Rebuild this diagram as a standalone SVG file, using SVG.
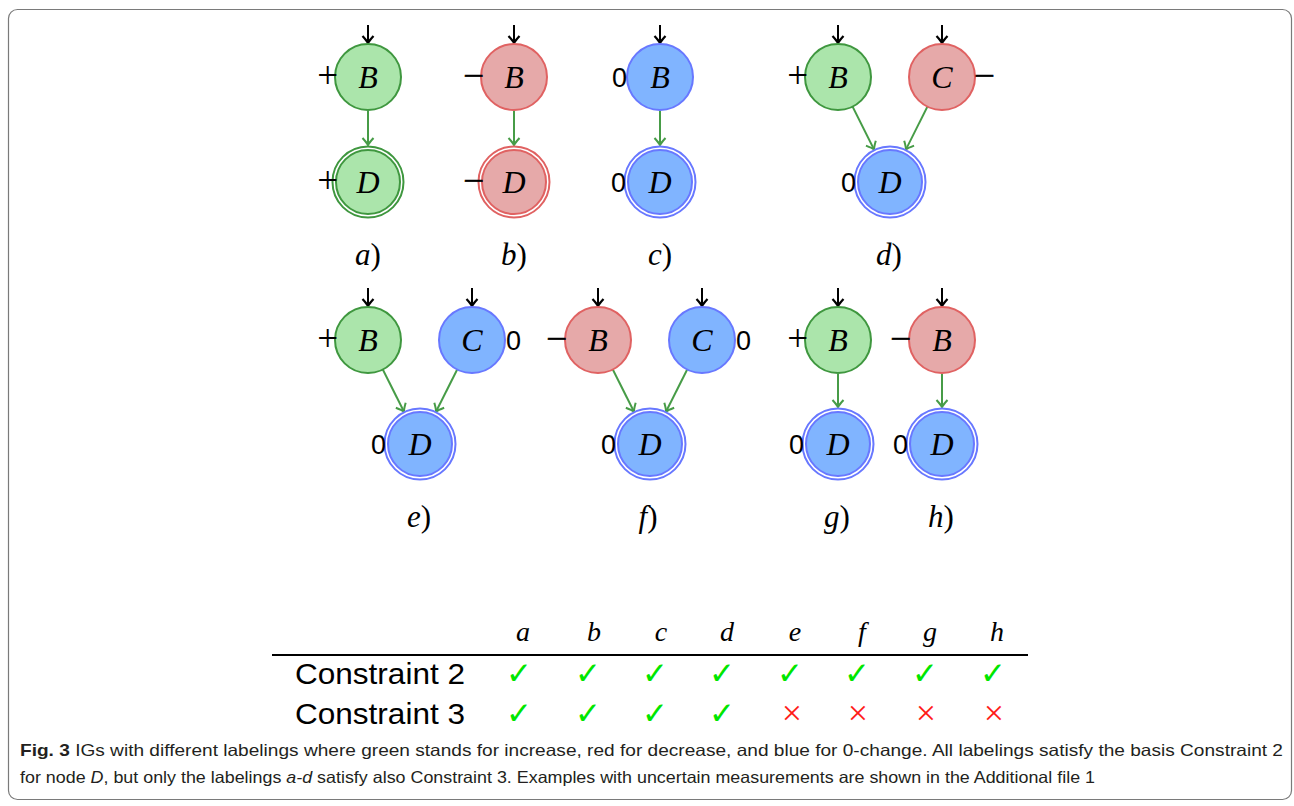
<svg xmlns="http://www.w3.org/2000/svg" width="1294" height="806" viewBox="0 0 1294 806">
<style>
.g{fill:#abe5ab;stroke:#3f973f;stroke-width:2}
.r{fill:#e6a9a9;stroke:#e06262;stroke-width:2}
.b{fill:#80b4ff;stroke:#6878ff;stroke-width:2}
.go{fill:#fff;stroke:#3f973f;stroke-width:2}
.ro{fill:#fff;stroke:#e06262;stroke-width:2}
.bo{fill:#fff;stroke:#6878ff;stroke-width:2}
.nl{font-family:"Liberation Serif",serif;font-style:italic;font-size:32px;text-anchor:middle;fill:#000}
.sg{font-family:"Liberation Serif",serif;font-size:37px;fill:#000}
.mn{stroke:#000;stroke-width:0.6}
.z{font-family:"Liberation Sans",sans-serif;font-size:27px;fill:#000}
.sub{font-family:"Liberation Serif",serif;font-size:31px;text-anchor:middle;fill:#000}
.it{font-style:italic}
.in{stroke:#000;stroke-width:2;fill:none;marker-end:url(#ak)}
.ed{stroke:#479c47;stroke-width:2;fill:none;marker-end:url(#ag)}
.hd{font-family:"Liberation Serif",serif;font-style:italic;font-size:28px;text-anchor:middle;fill:#000}
.row{font-family:"Liberation Sans",sans-serif;font-size:30px;fill:#000}
.ck{font-family:"DejaVu Sans",sans-serif;font-size:31px;text-anchor:middle;fill:#00e600}
.x{font-family:"Liberation Serif",serif;font-size:36px;text-anchor:middle;fill:#ff1a1a}
.cap{font-family:"Liberation Sans",sans-serif;font-size:16.5px;fill:#231f20}
</style>
<defs>
<marker id="ak" viewBox="-8 -8 16 16" markerWidth="16" markerHeight="16" refX="0" refY="0" orient="auto" markerUnits="userSpaceOnUse">
<path d="M-7,-5.5 Q-2,-1 0,0 Q-2,1 -7,5.5" fill="none" stroke="#000" stroke-width="2.2"/>
</marker>
<marker id="ag" viewBox="-8 -8 16 16" markerWidth="16" markerHeight="16" refX="0" refY="0" orient="auto" markerUnits="userSpaceOnUse">
<path d="M-7,-5.5 Q-2,-1 0,0 Q-2,1 -7,5.5" fill="none" stroke="#479c47" stroke-width="2"/>
</marker>
</defs>
<rect x="8.5" y="9.5" width="1283" height="790" rx="9" fill="#fff" stroke="#7a7a7a" stroke-width="1.2"/>

<g id="connectors">
<path class="in" d="M368,25 V43"/>
<path class="in" d="M514,25 V43"/>
<path class="in" d="M660,25 V43"/>
<path class="in" d="M838,25 V43"/>
<path class="in" d="M942,25 V43"/>
<path class="in" d="M368,288 V306"/>
<path class="in" d="M472,288 V306"/>
<path class="in" d="M598,288 V306"/>
<path class="in" d="M702,288 V306"/>
<path class="in" d="M838,288 V306"/>
<path class="in" d="M942,288 V306"/>
<path class="ed" d="M368,111 V145"/>
<path class="ed" d="M514,111 V145"/>
<path class="ed" d="M660,111 V145"/>
<path class="ed" d="M852.6,106.6 L874,149.4"/>
<path class="ed" d="M927.4,106.6 L906,149.4"/>
<path class="ed" d="M382.8,369.5 L403.9,411.5"/>
<path class="ed" d="M457.2,369.5 L436.1,411.5"/>
<path class="ed" d="M612.8,369.5 L633.9,411.5"/>
<path class="ed" d="M687.2,369.5 L666.1,411.5"/>
<path class="ed" d="M838,374 V407"/>
<path class="ed" d="M942,374 V407"/>
</g>

<g id="a-B"><circle class="g" cx="368" cy="77" r="33"/><text class="nl" x="368" y="88">B</text><text class="sg" x="338" y="88" text-anchor="end">+</text></g>
<g id="a-D"><circle class="go" cx="368" cy="182" r="35.5"/><circle class="g" cx="368" cy="182" r="32"/><text class="nl" x="368" y="193">D</text><text class="sg" x="338" y="193" text-anchor="end">+</text></g>
<text id="lbl-a" class="sub" x="368" y="265"><tspan class="it">a</tspan>)</text>

<g id="b-B"><circle class="r" cx="514" cy="77" r="33"/><text class="nl" x="514" y="88">B</text><text class="sg mn" x="484" y="88" text-anchor="end">−</text></g>
<g id="b-D"><circle class="ro" cx="514" cy="182" r="35.5"/><circle class="r" cx="514" cy="182" r="32"/><text class="nl" x="514" y="193">D</text><text class="sg mn" x="484" y="193" text-anchor="end">−</text></g>
<text id="lbl-b" class="sub" x="514" y="265"><tspan class="it">b</tspan>)</text>

<g id="c-B"><circle class="b" cx="660" cy="77" r="33"/><text class="nl" x="660" y="88">B</text><text class="z" x="627" y="87" text-anchor="end">0</text></g>
<g id="c-D"><circle class="bo" cx="660" cy="182" r="35.5"/><circle class="b" cx="660" cy="182" r="32"/><text class="nl" x="660" y="193">D</text><text class="z" x="626" y="192" text-anchor="end">0</text></g>
<text id="lbl-c" class="sub" x="660" y="265"><tspan class="it">c</tspan>)</text>

<g id="d-B"><circle class="g" cx="838" cy="77" r="33"/><text class="nl" x="838" y="88">B</text><text class="sg" x="808" y="88" text-anchor="end">+</text></g>
<g id="d-C"><circle class="r" cx="942" cy="77" r="33"/><text class="nl" x="942" y="88">C</text><text class="sg mn" x="974" y="88">−</text></g>
<g id="d-D"><circle class="bo" cx="890" cy="182" r="35.5"/><circle class="b" cx="890" cy="182" r="32"/><text class="nl" x="890" y="193">D</text><text class="z" x="856" y="192" text-anchor="end">0</text></g>
<text id="lbl-d" class="sub" x="889" y="265"><tspan class="it">d</tspan>)</text>

<g id="e-B"><circle class="g" cx="368" cy="340" r="33"/><text class="nl" x="368" y="351">B</text><text class="sg" x="338" y="351" text-anchor="end">+</text></g>
<g id="e-C"><circle class="b" cx="472" cy="340" r="33"/><text class="nl" x="472" y="351">C</text><text class="z" x="506" y="350">0</text></g>
<g id="e-D"><circle class="bo" cx="420" cy="444" r="35.5"/><circle class="b" cx="420" cy="444" r="32"/><text class="nl" x="420" y="455">D</text><text class="z" x="386" y="454" text-anchor="end">0</text></g>
<text id="lbl-e" class="sub" x="419" y="527"><tspan class="it">e</tspan>)</text>

<g id="f-B"><circle class="r" cx="598" cy="340" r="33"/><text class="nl" x="598" y="351">B</text><text class="sg mn" x="567" y="351" text-anchor="end">−</text></g>
<g id="f-C"><circle class="b" cx="702" cy="340" r="33"/><text class="nl" x="702" y="351">C</text><text class="z" x="736" y="350">0</text></g>
<g id="f-D"><circle class="bo" cx="650" cy="444" r="35.5"/><circle class="b" cx="650" cy="444" r="32"/><text class="nl" x="650" y="455">D</text><text class="z" x="616" y="454" text-anchor="end">0</text></g>
<text id="lbl-f" class="sub" x="648" y="527"><tspan class="it">f</tspan>)</text>

<g id="g-B"><circle class="g" cx="838" cy="340" r="33"/><text class="nl" x="838" y="351">B</text><text class="sg" x="808" y="351" text-anchor="end">+</text></g>
<g id="g-D"><circle class="bo" cx="838" cy="444" r="35.5"/><circle class="b" cx="838" cy="444" r="32"/><text class="nl" x="838" y="455">D</text><text class="z" x="804" y="454" text-anchor="end">0</text></g>
<text id="lbl-g" class="sub" x="837" y="527"><tspan class="it">g</tspan>)</text>

<g id="h-B"><circle class="r" cx="942" cy="340" r="33"/><text class="nl" x="942" y="351">B</text><text class="sg mn" x="911" y="351" text-anchor="end">−</text></g>
<g id="h-D"><circle class="bo" cx="942" cy="444" r="35.5"/><circle class="b" cx="942" cy="444" r="32"/><text class="nl" x="942" y="455">D</text><text class="z" x="908" y="454" text-anchor="end">0</text></g>
<text id="lbl-h" class="sub" x="941" y="527"><tspan class="it">h</tspan>)</text>

<g id="table">
<text class="hd" x="523" y="641">a</text>
<text class="hd" x="594" y="641">b</text>
<text class="hd" x="661" y="641">c</text>
<text class="hd" x="727" y="641">d</text>
<text class="hd" x="795" y="641">e</text>
<text class="hd" x="862" y="641">f</text>
<text class="hd" x="930" y="641">g</text>
<text class="hd" x="997" y="641">h</text>
<line x1="272" y1="655" x2="1028" y2="655" stroke="#000" stroke-width="2"/>
<text class="row" x="295" y="684" textLength="170" lengthAdjust="spacingAndGlyphs">Constraint 2</text>
<text class="row" x="295" y="724" textLength="170" lengthAdjust="spacingAndGlyphs">Constraint 3</text>
<text class="ck" x="519" y="684">✓</text>
<text class="ck" x="588" y="684">✓</text>
<text class="ck" x="655" y="684">✓</text>
<text class="ck" x="722" y="684">✓</text>
<text class="ck" x="790" y="684">✓</text>
<text class="ck" x="857" y="684">✓</text>
<text class="ck" x="925" y="684">✓</text>
<text class="ck" x="993" y="684">✓</text>
<text class="ck" x="519" y="724">✓</text>
<text class="ck" x="588" y="724">✓</text>
<text class="ck" x="655" y="724">✓</text>
<text class="ck" x="722" y="724">✓</text>
<text class="x" x="792" y="725">×</text>
<text class="x" x="858" y="725">×</text>
<text class="x" x="926" y="725">×</text>
<text class="x" x="994" y="725">×</text>
</g>

<text class="cap" x="20" y="756" textLength="1263" lengthAdjust="spacingAndGlyphs"><tspan font-weight="bold">Fig. 3</tspan> IGs with different labelings where green stands for increase, red for decrease, and blue for 0-change. All labelings satisfy the basis Constraint 2</text>
<text class="cap" x="20" y="783" textLength="1075" lengthAdjust="spacingAndGlyphs">for node <tspan font-style="italic">D</tspan>, but only the labelings <tspan font-style="italic">a-d</tspan> satisfy also Constraint 3. Examples with uncertain measurements are shown in the Additional file 1</text>
</svg>
